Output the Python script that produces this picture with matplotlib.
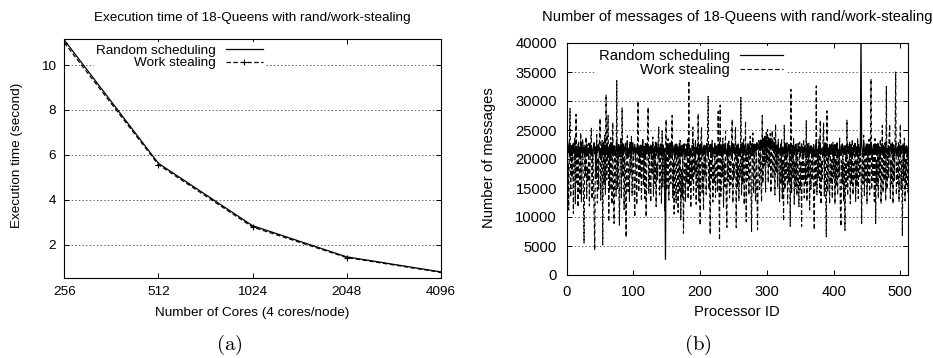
import numpy as np
import matplotlib
matplotlib.use("Agg")
import matplotlib.pyplot as plt
from matplotlib.ticker import NullLocator

plt.rcParams["font.family"] = ["Liberation Sans", "DejaVu Sans"]
plt.rcParams["mathtext.fontset"] = "cm"
plt.rcParams["lines.scale_dashes"] = False

# (a) execution time of 18-Queens
cores = [256, 512, 1024, 2048, 4096]
core_labels = ["256", "512", "1024", "2048", "4096"]
time_rand = [11.12, 5.62, 2.84, 1.45, 0.78]
time_ws = [11.0, 5.56, 2.78, 1.42, 0.76]

# (b) number of messages per processor (in thousands), processors 0..511
msg_rand_k = [
    21.6, 20.7, 22.4, 21.1, 22.8, 20.5, 21.9, 22.3, 20.6, 22.0, 22.7, 21.0, 21.8, 20.4, 22.2, 21.3,
    20.8, 22.5, 21.4, 20.3, 22.1, 21.0, 22.9, 21.7, 20.6, 21.5, 22.4, 20.4, 22.0, 21.1, 22.6, 21.4,
    20.5, 21.9, 21.0, 22.7, 20.7, 22.2, 21.3, 20.4, 22.0, 22.8, 20.9, 21.6, 20.5, 22.5, 21.1, 21.8,
    22.6, 20.9, 21.8, 20.3, 21.5, 22.4, 20.8, 22.9, 21.2, 20.5, 22.3, 21.0, 21.9, 22.7, 20.4, 21.6,
    21.0, 22.5, 20.3, 22.0, 22.8, 20.6, 21.7, 22.3, 21.0, 20.5, 21.9, 23.0, 20.8, 21.4, 22.5, 20.4,
    22.1, 20.9, 22.6, 21.5, 20.5, 22.3, 21.0, 21.9, 22.7, 20.6, 21.4, 22.5, 20.3, 21.8, 20.9, 22.6,
    21.3, 20.4, 22.0, 22.8, 20.8, 21.6, 22.5, 20.5, 21.9, 21.1, 22.6, 20.9, 22.3, 20.3, 21.6, 22.4,
    20.7, 21.9, 22.9, 20.9, 22.2, 20.4, 21.3, 22.6, 20.8, 22.7, 21.5, 20.5, 22.1, 21.0, 22.4, 20.6,
    21.8, 22.6, 21.0, 20.4, 22.2, 21.2, 22.8, 20.6, 21.6, 22.5, 20.3, 21.9, 20.9, 22.6, 21.3, 20.5,
    22.3, 21.0, 21.8, 20.5, 2.7, 21.6, 22.7, 20.9, 22.1, 20.4, 21.3, 22.5, 20.8, 21.9, 22.8, 20.6,
    21.5, 22.4, 20.5, 21.2, 22.6, 20.9, 22.1, 20.4, 21.8, 22.7, 21.0, 21.6, 20.5, 22.4, 20.9, 22.0,
    22.6, 20.8, 21.6, 20.4, 22.5, 21.2, 22.0, 22.8, 20.6, 21.8, 21.0, 20.5, 22.3, 21.5, 22.7, 20.9,
    21.3, 20.5, 22.0, 21.0, 22.6, 21.8, 20.4, 21.6, 22.5, 20.8, 22.9, 21.2, 20.5, 22.1, 20.9, 22.3,
    20.6, 21.8, 22.7, 21.0, 20.4, 22.1, 21.3, 22.5, 20.8, 22.6, 21.5, 20.3, 21.9, 21.0, 22.5, 20.9,
    22.2, 20.8, 20.5, 22.3, 21.2, 22.8, 20.6, 21.9, 21.0, 22.5, 20.4, 21.6, 22.6, 20.9, 22.1, 21.3,
    20.5, 21.9, 22.7, 20.9, 22.3, 20.6, 21.5, 22.5, 20.4, 21.8, 22.6, 21.0, 22.0, 20.5, 21.3, 22.4,
    21.0, 22.6, 20.8, 21.8, 20.4, 22.5, 21.2, 22.1, 22.8, 20.6, 21.5, 22.3, 20.9, 20.5, 21.9, 22.6,
    21.3, 20.8, 22.3, 21.5, 20.5, 22.1, 22.7, 21.0, 21.9, 22.6, 20.9, 22.5, 21.4, 22.8, 21.6, 22.2,
    21.7, 22.9, 21.4, 23.3, 22.0, 21.6, 23.6, 22.2, 21.8, 23.9, 22.4, 21.5, 23.2, 22.1, 23.7, 21.9,
    22.6, 23.4, 21.8, 22.9, 21.5, 23.1, 22.3, 21.4, 22.8, 21.2, 22.4, 20.9, 21.9, 22.6, 21.0, 21.8,
    21.5, 22.6, 20.8, 22.0, 20.5, 21.9, 21.0, 22.7, 20.6, 21.5, 22.4, 20.4, 21.8, 22.5, 20.9, 22.1,
    21.2, 20.5, 22.3, 21.0, 22.6, 20.8, 21.9, 22.5, 20.4, 21.6, 20.9, 22.7, 21.3, 22.1, 20.5, 21.8,
    22.6, 21.0, 22.1, 20.6, 21.5, 22.4, 20.3, 21.9, 20.9, 22.6, 21.2, 20.5, 22.0, 21.0, 22.3, 20.8,
    21.9, 20.6, 22.5, 21.2, 20.4, 22.1, 22.7, 20.9, 21.6, 20.5, 22.3, 21.0, 22.6, 20.8, 21.8, 21.3,
    20.5, 22.1, 20.9, 22.8, 21.5, 20.6, 22.3, 21.0, 21.9, 20.4, 22.5, 21.2, 20.8, 22.6, 21.5, 20.5,
    22.1, 21.0, 22.5, 20.6, 21.8, 22.7, 20.9, 21.6, 20.4, 22.3, 21.2, 20.6, 22.0, 22.6, 21.0, 21.9,
    20.8, 22.3, 21.2, 20.5, 21.9, 22.6, 20.9, 22.1, 21.5, 20.4, 22.5, 21.0, 21.9, 20.6, 22.3, 21.2,
    22.7, 20.9, 22.1, 20.5, 21.6, 22.5, 21.0, 21.9, 20.6, 41.0, 22.3, 21.2, 20.8, 22.8, 21.5, 20.6,
    22.1, 21.0, 22.6, 21.8, 20.5, 22.3, 20.9, 21.6, 22.9, 21.2, 20.4, 22.1, 22.5, 20.8, 21.8, 21.0,
    22.5, 20.6, 21.5, 22.6, 21.0, 22.1, 20.4, 21.9, 21.2, 22.7, 20.9, 22.3, 20.6, 21.5, 22.5, 21.0,
    21.8, 20.8, 22.3, 21.2, 20.5, 22.1, 22.6, 20.9, 21.5, 22.5, 20.4, 21.8, 21.0, 22.7, 21.2, 20.6,
    22.1, 21.0, 22.5, 21.5, 20.6, 22.3, 20.9, 21.8, 22.6, 21.2, 20.5, 22.1, 21.0, 22.3, 21.5, 20.8,
]
msg_ws_k = [
    20.7, 14.2, 19.3, 11.2, 23.1, 28.7, 13.4, 21.6, 16.8, 22.4, 10.6, 18.1, 23.6, 12.3, 27.7, 15.9,
    21.3, 11.7, 22.9, 17.4, 13.8, 24.5, 12.6, 19.9, 23.4, 14.7, 5.5, 20.6, 17.1, 23.8, 13.2, 18.6,
    16.3, 22.7, 11.9, 18.8, 23.3, 25.3, 13.1, 21.2, 17.6, 11.4, 4.3, 22.1, 16.6, 24.2, 12.4, 20.3,
    14.8, 22.6, 27.0, 12.9, 19.4, 23.2, 5.2, 21.7, 15.6, 24.1, 13.9, 31.1, 16.4, 22.3, 27.5, 9.2,
    21.4, 14.6, 23.7, 17.8, 12.2, 26.3, 15.3, 8.9, 22.2, 18.7, 13.6, 34.0, 14.9, 21.1, 16.2, 8.6,
    19.7, 23.5, 13.3, 28.8, 16.9, 22.8, 11.3, 20.4, 17.9, 6.5, 22.6, 24.0, 14.4, 19.1, 12.7, 22.9,
    17.2, 23.9, 13.7, 18.9, 21.9, 15.1, 10.0, 21.8, 18.3, 12.1, 23.0, 30.0, 14.3, 20.9, 16.7, 22.5,
    12.8, 19.6, 23.6, 15.4, 21.3, 13.2, 22.7, 10.0, 18.4, 23.1, 28.9, 14.1, 21.6, 16.1, 12.6, 22.2,
    17.3, 23.8, 13.5, 20.8, 15.8, 22.9, 11.8, 19.2, 16.4, 23.3, 25.5, 13.8, 21.0, 17.7, 12.3, 24.8,
    15.2, 22.4, 18.6, 11.1, 21.7, 26.8, 14.6, 19.4, 23.5, 12.9, 18.2, 22.8, 15.7, 21.4, 27.5, 13.3,
    19.8, 10.5, 22.1, 16.3, 12.4, 22.5, 17.8, 10.8, 21.2, 14.3, 23.2, 9.5, 18.3, 13.4, 21.9, 7.2,
    17.6, 22.6, 12.7, 19.3, 15.9, 23.4, 13.1, 33.5, 15.3, 21.7, 11.6, 19.8, 16.2, 25.5, 13.7, 22.0,
    17.4, 23.3, 12.2, 19.7, 15.1, 27.8, 12.8, 21.1, 8.6, 22.9, 25.5, 14.2, 19.6, 11.2, 22.4, 16.8,
    21.6, 13.9, 18.4, 23.7, 30.8, 14.8, 19.9, 7.0, 21.8, 16.4, 23.2, 12.6, 19.2, 15.8, 22.7, 13.4,
    18.9, 22.5, 14.3, 28.2, 16.7, 6.0, 29.3, 13.6, 21.3, 16.9, 23.6, 11.7, 19.6, 15.2, 24.8, 12.9,
    8.2, 21.8, 16.1, 23.1, 13.3, 19.8, 15.6, 22.6, 26.8, 12.4, 19.3, 16.7, 22.3, 25.5, 8.2, 21.4,
    15.3, 22.7, 12.8, 19.1, 16.9, 30.6, 13.7, 21.5, 15.7, 23.4, 12.1, 19.7, 26.5, 9.2, 21.1, 16.3,
    22.6, 13.8, 19.2, 23.9, 15.6, 7.5, 21.3, 24.5, 14.1, 22.2, 17.7, 12.7, 21.4, 15.4, 7.8, 19.7,
    23.2, 14.7, 21.1, 17.3, 12.6, 27.5, 15.8, 22.4, 18.8, 23.8, 14.3, 24.6, 19.4, 25.1, 15.9, 23.6,
    18.7, 24.4, 14.2, 22.8, 24.9, 16.8, 21.2, 23.7, 13.8, 26.0, 17.6, 22.3, 15.1, 23.4, 19.2, 12.7,
    21.5, 15.7, 23.3, 13.2, 19.8, 9.3, 25.8, 14.8, 21.4, 16.6, 22.8, 12.3, 19.3, 15.9, 22.1, 8.4,
    32.0, 14.2, 21.7, 16.8, 23.5, 12.2, 19.7, 15.3, 22.6, 13.7, 21.2, 17.3, 11.8, 22.9, 14.7, 19.4,
    8.4, 21.6, 16.2, 23.4, 13.3, 19.2, 15.8, 26.6, 12.7, 21.3, 16.8, 22.7, 11.2, 19.8, 14.8, 22.3,
    16.4, 21.7, 12.8, 7.8, 19.9, 15.2, 32.6, 13.8, 21.8, 16.7, 23.4, 14.2, 26.7, 12.2, 19.6, 16.3,
    22.8, 26.2, 13.6, 21.2, 15.8, 6.6, 28.3, 14.3, 21.7, 17.2, 12.3, 22.4, 15.7, 19.8, 13.2, 22.9,
    16.7, 21.3, 12.2, 19.9, 15.3, 22.8, 13.8, 21.2, 16.9, 23.6, 11.7, 8.4, 19.7, 15.7, 22.3, 12.8,
    19.3, 7.7, 21.8, 15.2, 26.7, 13.7, 19.8, 16.8, 22.9, 12.3, 21.3, 15.8, 23.4, 13.8, 19.2, 16.3,
    22.4, 12.7, 19.8, 15.3, 23.6, 13.2, 21.8, 16.7, 22.8, 18.3, 8.9, 21.3, 15.8, 24.1, 13.7, 19.9,
    16.2, 22.8, 12.3, 21.3, 15.7, 23.4, 13.8, 19.3, 33.8, 14.8, 21.8, 16.3, 22.3, 12.7, 23.5, 8.9,
    19.8, 15.3, 22.8, 13.2, 21.3, 16.8, 23.4, 12.3, 19.8, 25.8, 14.2, 21.8, 16.3, 22.8, 12.8, 32.5,
    14.8, 21.3, 16.8, 23.4, 26.0, 13.2, 19.8, 15.8, 22.8, 12.3, 21.8, 16.3, 23.3, 35.0, 13.8, 19.3,
    15.8, 22.8, 12.7, 21.3, 26.0, 14.8, 19.8, 6.8, 22.3, 16.3, 23.6, 12.8, 19.8, 15.3, 22.3, 14.2,
]
proc_ids = np.arange(len(msg_ws_k))

W, H = 933, 358


def rect(x0, y0, x1, y1):
    # pixel box -> figure fraction
    return [x0 / W, 1 - y1 / H, (x1 - x0) / W, (y1 - y0) / H]


def gnuplot_style(ax, fs, pad):
    for s in ax.spines.values():
        s.set_linewidth(0.8)
    ax.tick_params(direction="in", top=True, right=True, length=3.5, width=0.7,
                   labelsize=fs, pad=pad)
    ax.yaxis.grid(True, linestyle=(0, (1, 1.6)), color="0.25", linewidth=0.6)
    ax.set_axisbelow(True)


fig = plt.figure(figsize=(9.33, 3.58), dpi=100)

# ---- (a) ----
fs_a = 9.7
ax1 = fig.add_axes(rect(64.3, 39.3, 440.7, 277.7))
ax1.plot(cores, time_rand, color="black", linewidth=0.9, label="Random scheduling")
ax1.plot(cores, time_ws, color="black", linewidth=0.9, dashes=(3.2, 1.8),
         marker="+", markersize=5, markeredgewidth=0.8, label="Work stealing")
ax1.set_xscale("log", base=2)
ax1.set_xlim(256, 4096)
ax1.set_ylim(0.52, 11.15)
ax1.set_xticks(cores)
ax1.set_xticklabels(core_labels)
ax1.xaxis.set_minor_locator(NullLocator())
ax1.set_yticks([2, 4, 6, 8, 10])
gnuplot_style(ax1, fs_a, 6)
ax1.set_xlabel("Number of Cores (4 cores/node)", fontsize=fs_a)
ax1.xaxis.label.set_va("center")
ax1.xaxis.set_label_coords(0.5, -0.148)
ax1.set_ylabel("Execution time (second)", fontsize=fs_a)
ax1.yaxis.label.set_va("center")
ax1.yaxis.set_label_coords(-0.1265, 0.515)
ax1.text(0.5, 1.089, "Execution time of 18-Queens with rand/work-stealing",
         transform=ax1.transAxes, ha="center", va="center", fontsize=fs_a)
ax1.legend(loc="upper right", bbox_to_anchor=(0.536, 0.99), markerfirst=False,
           frameon=True, facecolor="white", edgecolor="none", framealpha=1,
           fancybox=False, fontsize=fs_a, handlelength=2.8, handletextpad=0.7,
           labelspacing=0.0, borderpad=0.2, borderaxespad=0)

# ---- (b) ----
fs_b = 10.6
ax2 = fig.add_axes(rect(566.7, 43, 907.7, 275))
ax2.plot(proc_ids, np.array(msg_rand_k) * 1000, color="black", linewidth=0.9,
         label="Random scheduling")
ax2.plot(proc_ids, np.array(msg_ws_k) * 1000, color="black", linewidth=0.8,
         dashes=(3.2, 1.8), label="Work stealing")
ax2.set_xlim(0, 511)
ax2.set_ylim(0, 40000)
ax2.set_xticks([0, 100, 200, 300, 400, 500])
ax2.set_yticks(np.arange(0, 40001, 5000))
gnuplot_style(ax2, fs_b, 7)
ax2.set_xlabel("Processor ID", fontsize=fs_b)
ax2.xaxis.label.set_va("center")
ax2.xaxis.set_label_coords(0.5, -0.158)
ax2.set_ylabel("Number of messages", fontsize=fs_b)
ax2.yaxis.label.set_va("center")
ax2.yaxis.set_label_coords(-0.227, 0.506)
ax2.text(0.5, 1.112, "Number of messages of 18-Queens with rand/work-stealing",
         transform=ax2.transAxes, ha="center", va="center", fontsize=fs_b)
ax2.legend(loc="upper right", bbox_to_anchor=(0.643, 0.988), markerfirst=False,
           frameon=True, facecolor="white", edgecolor="none", framealpha=1,
           fancybox=False, fontsize=fs_b, handlelength=2.9, handletextpad=0.7,
           labelspacing=0.0, borderpad=0.2, borderaxespad=0)

fig.text(229 / W, 1 - 345 / H, r"$\mathrm{(a)}$", ha="center", va="center", fontsize=15)
fig.text(698 / W, 1 - 345 / H, r"$\mathrm{(b)}$", ha="center", va="center", fontsize=15)

fig.savefig("out.png", dpi=100)
